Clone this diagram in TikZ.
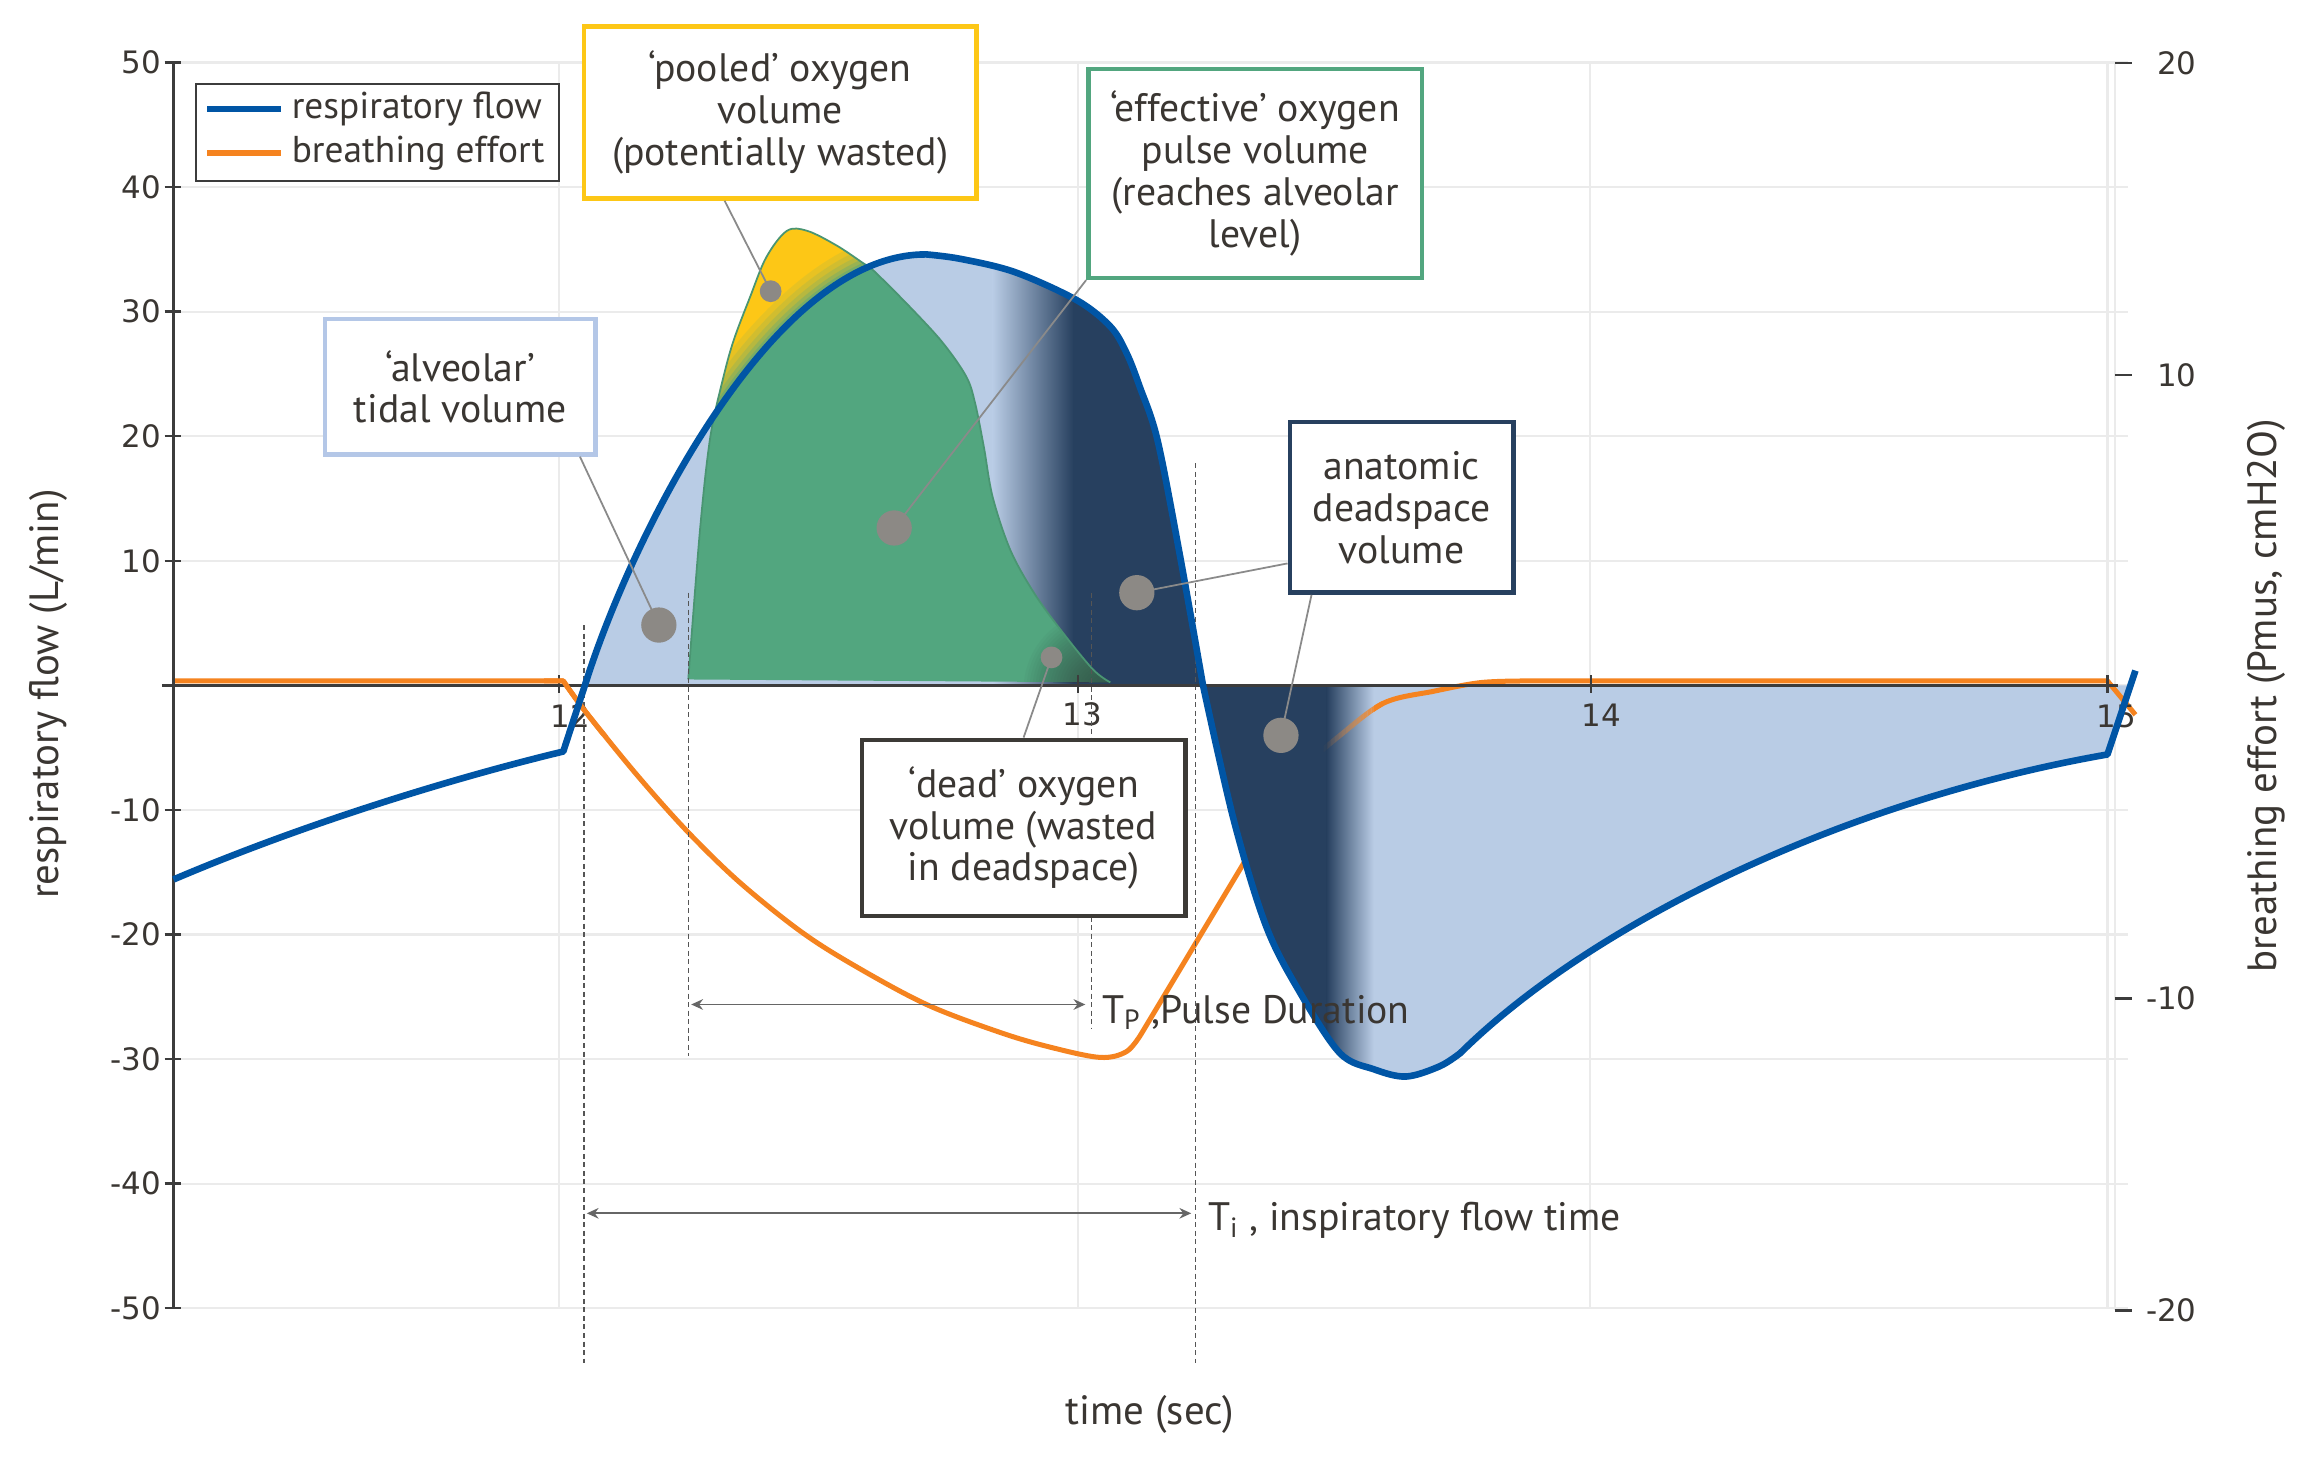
\documentclass[tikz,border=0pt]{standalone}
\usepackage{fontspec}
\setmainfont{PT Sans}
\newfontfamily\tickfont{DejaVu Sans}
\usetikzlibrary{calc,arrows.meta}
\definecolor{gridc}{HTML}{EBEBEB}
\definecolor{axisc}{HTML}{3C3C3C}
\definecolor{txt}{HTML}{3A3632}
\definecolor{flowblue}{HTML}{0055A5}
\definecolor{lightb}{HTML}{B9CCE5}
\definecolor{navy}{HTML}{27405F}
\definecolor{effgreen}{HTML}{52A67F}
\definecolor{poolyel}{HTML}{FDC716}
\definecolor{effort}{HTML}{F5831F}
\definecolor{dotc}{HTML}{8C8985}
\definecolor{leadc}{HTML}{8A8A8A}
\definecolor{dashc}{HTML}{555555}
\definecolor{arrowc}{HTML}{666666}
\definecolor{deadc}{HTML}{3C3A36}
\definecolor{shadec}{HTML}{2E3B3A}
\definecolor{albox}{HTML}{B4C7E7}
\begin{document}
\begin{tikzpicture}[x=0.5pt,y=-0.5pt,
  gridline/.style={draw=gridc, line width=0.7pt},
  ticklab/.style={font=\tickfont\fontsize{10.5}{12}\selectfont, text=txt, inner sep=0pt},
  annot/.style={draw, line width=1.5pt, fill=white, align=center, text=txt,
     font=\fontsize{13.5}{14.25}\selectfont, inner sep=0pt},
  bigdot/.style={circle, fill=dotc, minimum size=12pt, inner sep=0pt},
  smalldot/.style={circle, fill=dotc, minimum size=7.4pt, inner sep=0pt},
  leader/.style={draw=leadc, line width=0.6pt},
  guide/.style={draw=dashc, line width=0.45pt, dash pattern=on 1.7pt off 1.2pt},
  dimarrow/.style={draw=arrowc, line width=0.65pt,
     {Stealth[length=4pt,width=3.6pt]}-{Stealth[length=4pt,width=3.6pt]}},
  dimlab/.style={font=\fontsize{13.5}{15}\selectfont, text=txt, inner sep=0pt, anchor=base west},
  axtitle/.style={font=\fontsize{13.9}{16}\selectfont, text=txt, inner sep=0pt},
  legtext/.style={font=\fontsize{12.7}{14}\selectfont, text=txt, anchor=west, inner sep=0pt},
  bleft/.style={insert path={.. controls (200,563) and (300,531) .. (383,511)}},
  bpos/.style={insert path={-- (399,462) .. controls (430,365) and (525,172) .. (630,173) -- plot[smooth,tension=0.55] coordinates {(630,173) (653,176) (690,185) (732,204) (755,222) (766,240) (775,263) (787,299) (802,376) (818,466)}}},
  bneg/.style={insert path={-- plot[smooth,tension=0.55] coordinates {(818,466) (839,558) (861,630) (884,675) (911,716) (934,727) (956,732) (979,725) (993,716)} .. controls (1080,630) and (1250,545) .. (1433,513)}},
  gys/.style={insert path={-- plot[smooth,tension=0.55] coordinates {(468,462) (476,360) (483,297) (492,256) (499,231) (510,202) (521,175) (535,157) (549,157) (569,167) (587,179) (594,184) (619,209) (641,233) (657,256) (663,274) (669,304) (675,338) (687,374) (703,403) (721,428) (743,455) (755,464)}}},
  effpath/.style={insert path={-- plot[smooth,tension=0.55] coordinates {(383,463) (399,485) (434,528) (468,566) (503,600) (544,633) (580,656) (630,683) (680,702) (714,712) (748,719) (766,715) (776,703)} -- (848,583) -- (880,531) -- plot[smooth,tension=0.55] coordinates {(880,531) (893,516) (910,501) (941,478) (975,470) (1008,464) (1043,463)} -- (1433,463) -- (1452,486)}},
]
\useasboundingbox (0,0) rectangle (1568,996);
\fill[white] (0,0) rectangle (1568,996);

% grid
\foreach \v in {-50,-40,...,50} {
  \draw[gridline] (118,{466-8.47*\v}) -- (1447,{466-8.47*\v});
}
\foreach \gx in {380,733,1081,1433} {
  \draw[gridline] (\gx,43) -- (\gx,890);
}
\draw[gridline] (1438,43) -- (1438,891);

% positive (inspiratory) area
\fill[lightb] (397,466) [bpos] -- cycle;
\begin{scope}
  \clip (397,466) [bpos] -- cycle;
  \shade[left color=lightb, right color=navy] (675,150) rectangle (730,480);
  \fill[navy] (729.5,150) rectangle (830,480);
\end{scope}

% effective + pooled oxygen shape
\fill[effgreen] (468,462) [gys] -- cycle;
\begin{scope}
  \clip (468,462) [gys] -- cycle;
  \begin{scope}
    \clip (390,462) [bpos] -- (830,466) -- (830,100) -- (390,100) -- cycle;
    \fill[poolyel] (450,140) rectangle (620,480);
    \foreach \w/\o in {17/0.12,13/0.15,9.5/0.2,6.5/0.3,4/0.45} {
      \draw[effgreen, line width=\w pt, opacity=\o] (399,462) [bpos];
    }
  \end{scope}
  \foreach \r in {54,52,...,4} {
    \fill[shadec, fill opacity=0.04] (750,469) circle[radius=\r];
  }
\end{scope}
\draw[effgreen!90!black, line width=0.6pt] (468,462) [gys];

% negative (expiratory) area
\fill[lightb] (818,466) [bneg] -- (1448,466) -- cycle;
\draw[effort, line width=1.7pt, line join=round] (118,463) -- (383,463) [effpath];
\begin{scope}
  \clip (818,466) [bneg] -- (1448,466) -- cycle;
  \fill[navy] (810,460) rectangle (902.5,760);
  \shade[left color=navy, right color=lightb] (902,460) rectangle (934,760);
\end{scope}
\foreach \i in {0,...,15} {
  \begin{scope}
    \clip ({900+\i*2.5},450) rectangle ({902.5+\i*2.5},560);
    \pgfmathsetmacro{\op}{(\i+0.5)/16}
    \draw[effort, line width=1.7pt, opacity=\op] (118,463) -- (383,463) [effpath];
  \end{scope}
}

% x tick labels (over fills, under lines)
\node[ticklab] (xl12) at (388,487) {12};
\node[ticklab] (xl13) at (736,486) {13};
\node[ticklab] (xl14) at (1089,486) {14};
\node[ticklab] (xl15) at (1439,487) {15};

% guide lines
\draw[guide] (397,425) -- (397,927);
\draw[guide] (468,403) -- (468,718);
\draw[guide] (742,403) -- (742,700);
\draw[guide] (813,315) -- (813,927);

% axes
\draw[axisc, line width=1pt] (110,466) -- (1440,466);
\draw[axisc, line width=1pt] (118,43) -- (118,890);
\foreach \v in {-50,-40,...,50} {
  \draw[axisc, line width=0.8pt] (112,{466-8.47*\v}) -- (123,{466-8.47*\v});
}
\foreach \gx in {380,733,1082,1433} {
  \draw[axisc, line width=0.7pt] (\gx,459) -- (\gx,471);
}
\foreach \ry in {43,255,679,891} {
  \draw[axisc, line width=0.8pt] (1438,\ry) -- (1450,\ry);
}

% orange over the start (crossing near 12)
\begin{scope}
  \clip (370,450) rectangle (420,500);
  \draw[effort, line width=1.7pt, line join=round] (118,463) -- (383,463) [effpath];
\end{scope}

% respiratory flow line
\draw[flowblue, line width=2.25pt, line join=round] (118,598) [bleft] -- (383,511) [bpos] [bneg] -- (1452,456);

% y tick labels
\foreach \v in {50,40,30,20,10,-10,-20,-30,-40,-50} {
  \node[ticklab, anchor=east] (yl\v) at (110,{466-8.47*\v}) {\v};
}
\node[ticklab, anchor=east] (rl20) at (1494,43) {20};
\node[ticklab, anchor=east] (rl10) at (1494,255) {10};
\node[ticklab, anchor=east] (rlm10) at (1494,679) {-10};
\node[ticklab, anchor=east] (rlm20) at (1494,891) {-20};

% axis titles
\node[axtitle, rotate=90] (ytitle) at (33,472) {respiratory flow (L/min)};
\node[axtitle, rotate=90] (rtitle) at (1541,473) {breathing effort (Pmus, cmH2O)};
\node[axtitle] (xtitle) at (782,962) {time (sec)};

% annotation boxes
\node[annot, draw=poolyel, minimum width=133.5pt, minimum height=58.5pt] (bPool) at (530.5,76.5)
  {‘pooled’ oxygen\\volume\\(potentially wasted)};
\node[annot, draw=albox, minimum width=92pt, minimum height=46pt] (bAlv) at (313,263)
  {‘alveolar’\\tidal volume};
\node[annot, draw=effgreen, minimum width=113.5pt, minimum height=71pt] (bEff) at (853.5,118)
  {‘effective’ oxygen\\pulse volume\\(reaches alveolar\\level)};
\node[annot, draw=navy, minimum width=76pt, minimum height=58pt] (bAna) at (953,345)
  {anatomic\\deadspace\\volume};
\node[annot, draw=deadc, minimum width=110pt, minimum height=60pt] (bDead) at (696,563)
  {‘dead’ oxygen\\volume (wasted\\in deadspace)};

% dots and leaders
\coordinate (pDot) at (524,198);
\coordinate (aDot) at (448,425);
\coordinate (eDot) at (608,359);
\coordinate (n1Dot) at (773,403);
\coordinate (n2Dot) at (871,500);
\coordinate (dDot) at (715,447);
\draw[leader] (pDot) -- ($(bPool.south west)!0.36!(bPool.south east)$);
\draw[leader] (aDot) -- ($(bAlv.south west)!0.935!(bAlv.south east)$);
\draw[leader] (eDot) -- (bEff.south west);
\draw[leader] (n1Dot) -- ($(bAna.south west)!0.18!(bAna.north west)$);
\draw[leader] (n2Dot) -- ($(bAna.south west)!0.105!(bAna.south east)$);
\draw[leader] (dDot) -- (bDead.north);
\node[smalldot] (pDotN) at (pDot) {};
\node[bigdot] (aDotN) at (aDot) {};
\node[bigdot] (eDotN) at (eDot) {};
\node[bigdot] (n1DotN) at (n1Dot) {};
\node[bigdot] (n2DotN) at (n2Dot) {};
\node[smalldot] (dDotN) at (dDot) {};

% legend
\node[draw=axisc, line width=0.65pt, fill=white, minimum width=123.5pt, minimum height=33pt, inner sep=0pt] (leg) at (256.5,90) {};
\draw[flowblue, line width=2pt] (141,74) -- (191,74);
\draw[effort, line width=2pt] (141,104) -- (191,104);
\node[legtext] (legA) at (198,74) {respiratory flow};
\node[legtext] (legB) at (198,104) {breathing effort};

% duration arrows
\coordinate (tpL) at (470,683);
\coordinate (tpR) at (738,683);
\coordinate (tiL) at (399,825);
\coordinate (tiR) at (810,825);
\draw[dimarrow] (tpL) -- (tpR);
\draw[dimarrow] (tiL) -- (tiR);
\node[dimlab] (tpLab) at (749,696) {T\textsubscript{P} ,Pulse Duration};
\node[dimlab] (tiLab) at (821,837) {T\textsubscript{i} , inspiratory flow time};
\end{tikzpicture}
\end{document}
